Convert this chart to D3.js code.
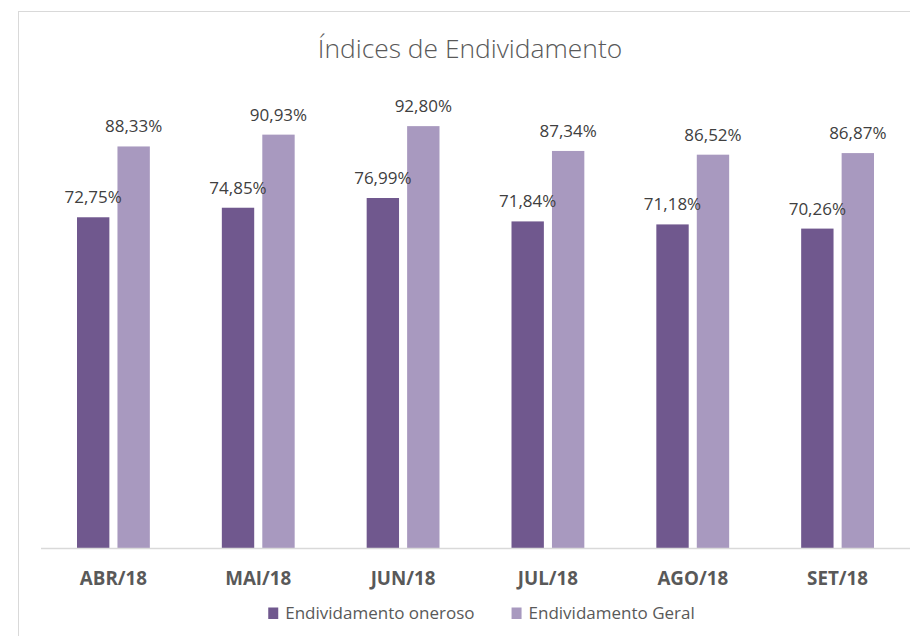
<!DOCTYPE html>
<html>
<head>
<meta charset="utf-8">
<script src="https://cdn.jsdelivr.net/npm/d3@7"></script>
<style>
  html, body { margin: 0; padding: 0; background: #ffffff; }
  svg { display: block; font-family: "Open Sans", "Noto Sans", sans-serif; }
</style>
</head>
<body>
<svg id="chart" width="910" height="636"></svg>
<script>
const categories = ["ABR/18", "MAI/18", "JUN/18", "JUL/18", "AGO/18", "SET/18"];
const seriesNames = ["Endividamento oneroso", "Endividamento Geral"];
const oneroso = [72.75, 74.85, 76.99, 71.84, 71.18, 70.26];
const geral = [88.33, 90.93, 92.80, 87.34, 86.52, 86.87];
const labelsOneroso = ["72,75%", "74,85%", "76,99%", "71,84%", "71,18%", "70,26%"];
const labelsGeral = ["88,33%", "90,93%", "92,80%", "87,34%", "86,52%", "86,87%"];
const colors = ["#70588E", "#A899BF"];
const titleText = "Índices de Endividamento";

const svg = d3.select("#chart");
const W = 910, H = 636;

// chart frame (extends past right/bottom edges)
svg.append("rect")
  .attr("x", 18.5).attr("y", 11.5)
  .attr("width", W + 10).attr("height", H + 10)
  .attr("fill", "#ffffff").attr("stroke", "#d9d9d9").attr("stroke-width", 1);

const plot = { left: 41, right: 910, top: 93.4, bottom: 548 };

const x0 = d3.scaleBand().domain(categories).range([plot.left, plot.right]).padding(0);
const innerPad = 36;
const x1 = d3.scaleBand().domain(seriesNames)
  .range([innerPad, x0.bandwidth() - innerPad]).paddingInner(0.2);
const y = d3.scaleLinear().domain([0, 100]).range([plot.bottom, plot.top]);

// title
svg.append("text")
  .attr("x", 470).attr("y", 57.5)
  .attr("text-anchor", "middle")
  .attr("font-size", 26.4)
  .attr("font-weight", 300)
  .attr("fill", "#595959")
  .text(titleText);

const data = categories.map((c, i) => ({
  cat: c,
  vals: [
    { s: seriesNames[0], v: oneroso[i], label: labelsOneroso[i] },
    { s: seriesNames[1], v: geral[i], label: labelsGeral[i] }
  ]
}));

const groups = svg.append("g").selectAll("g")
  .data(data).join("g")
  .attr("transform", d => `translate(${x0(d.cat)},0)`);

groups.selectAll("rect")
  .data(d => d.vals).join("rect")
  .attr("x", d => x1(d.s))
  .attr("y", d => y(d.v))
  .attr("width", x1.bandwidth())
  .attr("height", d => y(0) - y(d.v))
  .attr("fill", (d, i) => colors[i]);

// baseline
svg.append("line")
  .attr("x1", plot.left).attr("x2", plot.right)
  .attr("y1", plot.bottom + 0.5).attr("y2", plot.bottom + 0.5)
  .attr("stroke", "#d9d9d9").attr("stroke-width", 1.5);

// data labels
groups.selectAll("text.lbl")
  .data(d => d.vals).join("text")
  .attr("class", "lbl")
  .attr("x", d => x1(d.s) + x1.bandwidth() / 2)
  .attr("y", d => y(d.v) - 14)
  .attr("text-anchor", "middle")
  .attr("font-size", 17)
  .attr("fill", "#404040")
  .text(d => d.label);

// x axis labels
const xAxis = d3.axisBottom(x0).tickSize(0).tickPadding(0);
const ax = svg.append("g")
  .attr("transform", `translate(0,${plot.bottom})`)
  .call(xAxis);
ax.select(".domain").remove();
ax.selectAll("text")
  .attr("dy", 0)
  .attr("y", 37)
  .attr("font-family", "\"Open Sans\", sans-serif")
  .attr("font-size", 18.8)
  .attr("font-weight", 700)
  .attr("fill", "#595959");

// legend
const legend = svg.append("g");
const items = legend.selectAll("g").data(seriesNames).join("g");
items.append("rect")
  .attr("width", 10).attr("height", 11.5)
  .attr("y", -11.5)
  .attr("fill", (d, i) => colors[i]);
items.append("text")
  .attr("x", 17)
  .attr("y", 0)
  .attr("font-size", 17)
  .attr("fill", "#595959")
  .text(d => d);
let offset = 0;
const widths = [];
items.each(function() {
  const w = 17 + d3.select(this).select("text").node().getComputedTextLength();
  widths.push(w);
});
const gap = 37;
const total = widths.reduce((a, b) => a + b, 0) + gap * (widths.length - 1);
const startX = 481.5 - total / 2;
items.attr("transform", (d, i) => {
  const t = `translate(${startX + offset},619)`;
  offset += widths[i] + gap;
  return t;
});
</script>
</body>
</html>
